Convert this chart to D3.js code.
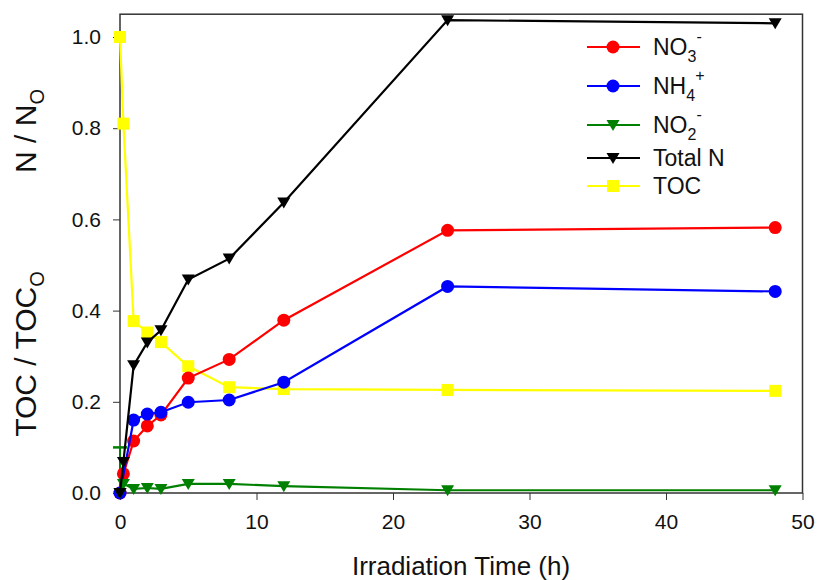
<!DOCTYPE html>
<html lang="en">
<head>
    <meta charset="UTF-8">
    <title>N and TOC vs irradiation time</title>
    <style>
        body,html{
            margin:0;
            padding:0;
            border:0;
            background:#fff;
            font-family:"Liberation Sans", Arial, sans-serif;
        }
    </style>
</head>
<body>
    <svg id="svg" width="817" height="580"></svg>
    <script type="text/javascript" src="https://cdnjs.cloudflare.com/ajax/libs/d3/7.8.5/d3.min.js"></script>
    <script type="text/javascript">
        // time points (h)
        var times = [0, 0.25, 1, 2, 3, 5, 8, 12, 24, 48];

        var no3   = [0, 0.042, 0.114, 0.147, 0.171, 0.252, 0.293, 0.379, 0.576, 0.582];
        var nh4   = [0, null, 0.160, 0.173, 0.177, 0.199, 0.204, 0.243, 0.453, 0.442];
        var no2   = [0, 0.020, 0.009, 0.011, 0.009, 0.020, 0.020, 0.015, 0.006, 0.006];
        var totalN = [0, 0.068, 0.280, 0.330, 0.357, 0.468, 0.514, 0.637, 1.037, 1.030];
        var toc   = [1.0, 0.810, 0.377, 0.352, 0.331, 0.278, 0.232, 0.228, 0.226, 0.224];

        // error bar on NO2 at t = 0
        var no2Err = [0.1];

        var xTicks = [0, 10, 20, 30, 40, 50];
        var yTicks = [0, 0.2, 0.4, 0.6, 0.8, 1.0];

        var svg = d3.select("#svg");

        var x = d3.scaleLinear().domain([0, 50]).range([120, 802.5]);
        var y = d3.scaleLinear().domain([0, 1.05]).range([493, 14.2]);

        // frame
        svg.append("rect")
            .attr("x", x(0)).attr("y", y(1.05))
            .attr("width", x(50) - x(0)).attr("height", y(0) - y(1.05))
            .attr("fill", "none").attr("stroke", "#333").attr("stroke-width", 1.5);

        var xAxis = svg.append("g")
            .attr("transform", "translate(0," + y(0) + ")")
            .call(d3.axisBottom(x).tickValues(xTicks).tickSize(7).tickSizeOuter(0).tickPadding(14)
                .tickFormat(d3.format("d")));
        var yAxis = svg.append("g")
            .attr("transform", "translate(" + x(0) + ",0)")
            .call(d3.axisLeft(y).tickValues(yTicks).tickSize(7).tickSizeOuter(0).tickPadding(12)
                .tickFormat(d3.format(".1f")));
        [xAxis, yAxis].forEach(function(a){
            a.select(".domain").remove();
            a.selectAll("line").attr("stroke", "#333");
            a.selectAll("text")
                .attr("fill", "#111")
                .style("font-family", '"Liberation Sans", Arial, sans-serif')
                .style("font-size", "21px");
        });

        // axis titles
        svg.append("text")
            .attr("x", 461).attr("y", 575)
            .attr("text-anchor", "middle")
            .style("font-size", "26px").attr("fill", "#111")
            .text("Irradiation Time (h)");

        function yTitle(label, cy){
            var t = svg.append("text")
                .attr("transform", "translate(36," + cy + ") rotate(-90)")
                .attr("text-anchor", "middle")
                .style("font-size", "30px").attr("fill", "#111");
            t.append("tspan").text(label);
            t.append("tspan").attr("dy", 8).style("font-size", "20px").text("O");
        }
        yTitle("N / N", 131);
        yTitle("TOC / TOC", 354);

        var series = [
            {name: "TOC", vals: toc, color: "#ffff00", shape: "square"},
            {name: "NO3", vals: no3, color: "#ff0000", shape: "circle"},
            {name: "NH4", vals: nh4, color: "#0000ff", shape: "circle"},
            {name: "NO2", vals: no2, color: "#008000", shape: "tri"},
            {name: "Total N", vals: totalN, color: "#000000", shape: "tri"}
        ];

        function marker(g, shape, color){
            if(shape == "circle"){
                g.append("circle").attr("r", 6.5).attr("fill", color);
            } else if(shape == "square"){
                g.append("rect").attr("x", -6).attr("y", -6).attr("width", 12).attr("height", 12).attr("fill", color);
            } else {
                g.append("path").attr("d", "M-6.5,-5 L6.5,-5 L0,6 Z").attr("fill", color);
            }
        }

        var line = d3.line()
            .x(function(d){ return x(d.t); })
            .y(function(d){ return y(d.v); });

        // NO2 error bar
        svg.append("line")
            .attr("x1", x(times[0])).attr("x2", x(times[0]))
            .attr("y1", y(no2[0])).attr("y2", y(no2[0] + no2Err[0]))
            .attr("stroke", "#008000").attr("stroke-width", 2);
        svg.append("line")
            .attr("x1", x(times[0]) - 7).attr("x2", x(times[0]) + 7)
            .attr("y1", y(no2[0] + no2Err[0])).attr("y2", y(no2[0] + no2Err[0]))
            .attr("stroke", "#008000").attr("stroke-width", 2.5);

        series.forEach(function(s){
            var pts = times.map(function(t, i){ return {t: t, v: s.vals[i]}; })
                .filter(function(d){ return d.v != null; });
            svg.append("path").datum(pts)
                .attr("d", line)
                .attr("fill", "none")
                .attr("stroke", s.color)
                .attr("stroke-width", 2.2);
            pts.forEach(function(d){
                var g = svg.append("g").attr("transform", "translate(" + x(d.t) + "," + y(d.v) + ")");
                marker(g, s.shape, s.color);
            });
        });

        // legend
        var legend = [
            {color: "#ff0000", shape: "circle", main: "NO", sub: "3", sup: "-", y: 47},
            {color: "#0000ff", shape: "circle", main: "NH", sub: "4", sup: "+", y: 86},
            {color: "#008000", shape: "tri", main: "NO", sub: "2", sup: "-", y: 125},
            {color: "#000000", shape: "tri", main: "Total N", y: 158},
            {color: "#ffff00", shape: "square", main: "TOC", y: 186}
        ];
        legend.forEach(function(l){
            svg.append("line")
                .attr("x1", 587).attr("x2", 640).attr("y1", l.y).attr("y2", l.y)
                .attr("stroke", l.color).attr("stroke-width", 2.2);
            var g = svg.append("g").attr("transform", "translate(613," + l.y + ")");
            marker(g, l.shape, l.color);
            var t = svg.append("text")
                .attr("x", 653).attr("y", l.y + 8)
                .style("font-size", "23px").attr("fill", "#111");
            t.append("tspan").text(l.main);
            if(l.sub){
                t.append("tspan").attr("dy", 7).style("font-size", "16px").text(l.sub);
                t.append("tspan").attr("dy", -20).style("font-size", "16px").text(l.sup);
            }
        });
    </script>
</body>
</html>
